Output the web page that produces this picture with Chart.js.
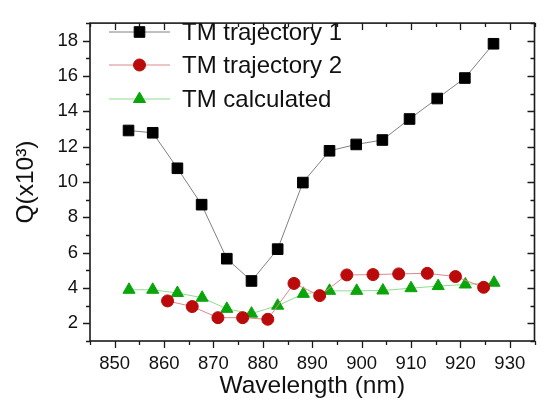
<!DOCTYPE html>
<html>
<head>
<meta charset="utf-8">
<script src="https://cdn.jsdelivr.net/npm/chart.js@4.4.0/dist/chart.umd.min.js"></script>
<style>
  html, body { margin: 0; padding: 0; background: #fff; }
  #wrap { width: 543px; height: 404px; }
</style>
</head>
<body>
<div id="wrap"><canvas id="qChart"></canvas></div>
<script>
// measured Q factors (x10^3) against wavelength
var wavelength1 = [852.8, 857.7, 862.7, 867.6, 872.7, 877.7, 883.0, 888.1, 893.5, 898.9, 904.2, 909.7, 915.3, 920.9, 926.7];
var qTrajectory1 = [12.92, 12.79, 10.78, 8.72, 5.66, 4.40, 6.20, 9.97, 11.77, 12.13, 12.38, 13.57, 14.73, 15.89, 17.83];

var wavelength2 = [860.7, 865.7, 870.9, 875.9, 881.0, 886.3, 891.5, 897.0, 902.3, 907.5, 913.3, 919.0, 924.7];
var qTrajectory2 = [3.27, 2.95, 2.32, 2.32, 2.23, 4.26, 3.57, 4.74, 4.76, 4.80, 4.83, 4.65, 4.04];

var wavelengthCalc = [852.9, 857.7, 862.7, 867.7, 872.7, 877.7, 883.0, 888.2, 893.5, 899.0, 904.3, 910.0, 915.5, 921.0, 926.8];
var qCalculated = [3.90, 3.90, 3.72, 3.45, 2.82, 2.55, 3.00, 3.67, 3.84, 3.84, 3.86, 3.99, 4.11, 4.20, 4.30];

var seriesNames = ["TM trajectory 1", "TM trajectory 2", "TM calculated"];

// axis ticks
var xTicks = [850, 860, 870, 880, 890, 900, 910, 920, 930];
var yTicks = [2, 4, 6, 8, 10, 12, 14, 16, 18];
var xMinorStep = 5;
var yMinorStep = 1;

function toPoints(xs, ys) {
    return xs.map(function (x, i) { return {x: x, y: ys[i]}; });
}

var FONT = "'Liberation Sans', Arial, sans-serif";

// box frame with ticks: out on left/bottom, in on top/right
var framePlugin = {
    id: 'frame',
    afterDraw: function (chart) {
        var ctx = chart.ctx;
        var a = chart.chartArea;
        var xs = chart.scales.x, ys = chart.scales.y;
        var major = 7, minor = 4;
        ctx.save();
        ctx.strokeStyle = '#1a1a1a';
        ctx.lineWidth = 1.6;
        ctx.strokeRect(a.left, a.top, a.right - a.left, a.bottom - a.top);
        ctx.lineWidth = 1.3;
        ctx.beginPath();
        var v, px, len;
        for (v = xs.min; v <= xs.max + 1e-6; v += xMinorStep) {
            px = Math.round(xs.getPixelForValue(v)) + 0.5;
            len = xTicks.indexOf(v) >= 0 ? major : minor;
            ctx.moveTo(px, a.bottom); ctx.lineTo(px, a.bottom + len);
            ctx.moveTo(px, a.top); ctx.lineTo(px, a.top + len);
        }
        for (v = ys.min; v <= ys.max + 1e-6; v += yMinorStep) {
            px = Math.round(ys.getPixelForValue(v)) + 0.5;
            len = yTicks.indexOf(v) >= 0 ? major : minor;
            ctx.moveTo(a.left, px); ctx.lineTo(a.left - len, px);
            ctx.moveTo(a.right, px); ctx.lineTo(a.right - len, px);
        }
        ctx.stroke();
        ctx.restore();
    }
};

// legend: short line with marker, then the series name
var legendPlugin = {
    id: 'lineLegend',
    afterDraw: function (chart) {
        var ctx = chart.ctx;
        var rows = [32, 65, 99];
        ctx.save();
        chart.data.datasets.forEach(function (ds, i) {
            var y = rows[i];
            ctx.strokeStyle = ds.borderColor;
            ctx.lineWidth = ds.borderWidth;
            ctx.beginPath();
            ctx.moveTo(109, y);
            ctx.lineTo(170, y);
            ctx.stroke();
            ctx.fillStyle = ds.pointBackgroundColor;
            ctx.strokeStyle = ds.pointBorderColor;
            ctx.lineWidth = 1;
            Chart.helpers.drawPoint(ctx, {pointStyle: ds.pointStyle, radius: ds.pointRadius, rotation: 0, borderWidth: 1}, 139.5, y);
            ctx.fillStyle = '#111';
            ctx.font = '24px ' + FONT;
            ctx.textBaseline = 'middle';
            ctx.textAlign = 'left';
            ctx.fillText(ds.label, 182, y + 1);
        });
        ctx.restore();
    }
};

new Chart(document.getElementById('qChart'), {
    type: 'line',
    data: {
        datasets: [
            {
                label: seriesNames[0],
                data: toPoints(wavelength1, qTrajectory1),
                borderColor: '#808080',
                borderWidth: 1,
                pointStyle: 'rect',
                pointRadius: 7.5,
                pointBackgroundColor: '#000',
                pointBorderColor: '#000',
                pointBorderWidth: 1
            },
            {
                label: seriesNames[1],
                data: toPoints(wavelength2, qTrajectory2),
                borderColor: '#d98a8a',
                borderWidth: 1,
                pointStyle: 'circle',
                pointRadius: 6,
                pointBackgroundColor: '#bb0a0a',
                pointBorderColor: '#bb0a0a',
                pointBorderWidth: 1
            },
            {
                label: seriesNames[2],
                data: toPoints(wavelengthCalc, qCalculated),
                borderColor: '#8fdc8f',
                borderWidth: 1,
                pointStyle: 'triangle',
                pointRadius: 7,
                pointBackgroundColor: '#0aa50a',
                pointBorderColor: '#0aa50a',
                pointBorderWidth: 1
            }
        ]
    },
    options: {
        responsive: true,
        maintainAspectRatio: false,
        animation: false,
        layout: {padding: {top: 5, right: 3.5, left: 0, bottom: 0}},
        plugins: {legend: {display: false}, tooltip: {enabled: false}},
        elements: {line: {tension: 0}},
        scales: {
            x: {
                type: 'linear',
                min: 845,
                max: 935,
                grid: {display: false, drawTicks: false},
                border: {display: false},
                afterBuildTicks: function (scale) {
                    scale.ticks = xTicks.map(function (v) { return {value: v}; });
                },
                afterFit: function (scale) { scale.height = 63; },
                ticks: {
                    color: '#111',
                    padding: 12,
                    maxRotation: 0,
                    autoSkip: false,
                    font: {family: FONT, size: 18.5}
                },
                title: {
                    display: true,
                    text: 'Wavelength (nm)',
                    color: '#111',
                    padding: {top: 0, bottom: 3},
                    font: {family: FONT, size: 24.5}
                }
            },
            y: {
                type: 'linear',
                min: 1,
                max: 19,
                grid: {display: false, drawTicks: false},
                border: {display: false},
                afterBuildTicks: function (scale) {
                    scale.ticks = yTicks.map(function (v) { return {value: v}; });
                },
                afterFit: function (scale) { scale.width = 90; },
                ticks: {
                    color: '#111',
                    padding: 12,
                    autoSkip: false,
                    font: {family: FONT, size: 18.5}
                },
                title: {
                    display: true,
                    text: 'Q(x10\u00B3)',
                    color: '#111',
                    padding: {top: 12, bottom: 0},
                    font: {family: FONT, size: 24.5}
                }
            }
        }
    },
    plugins: [framePlugin, legendPlugin]
});
</script>
</body>
</html>
